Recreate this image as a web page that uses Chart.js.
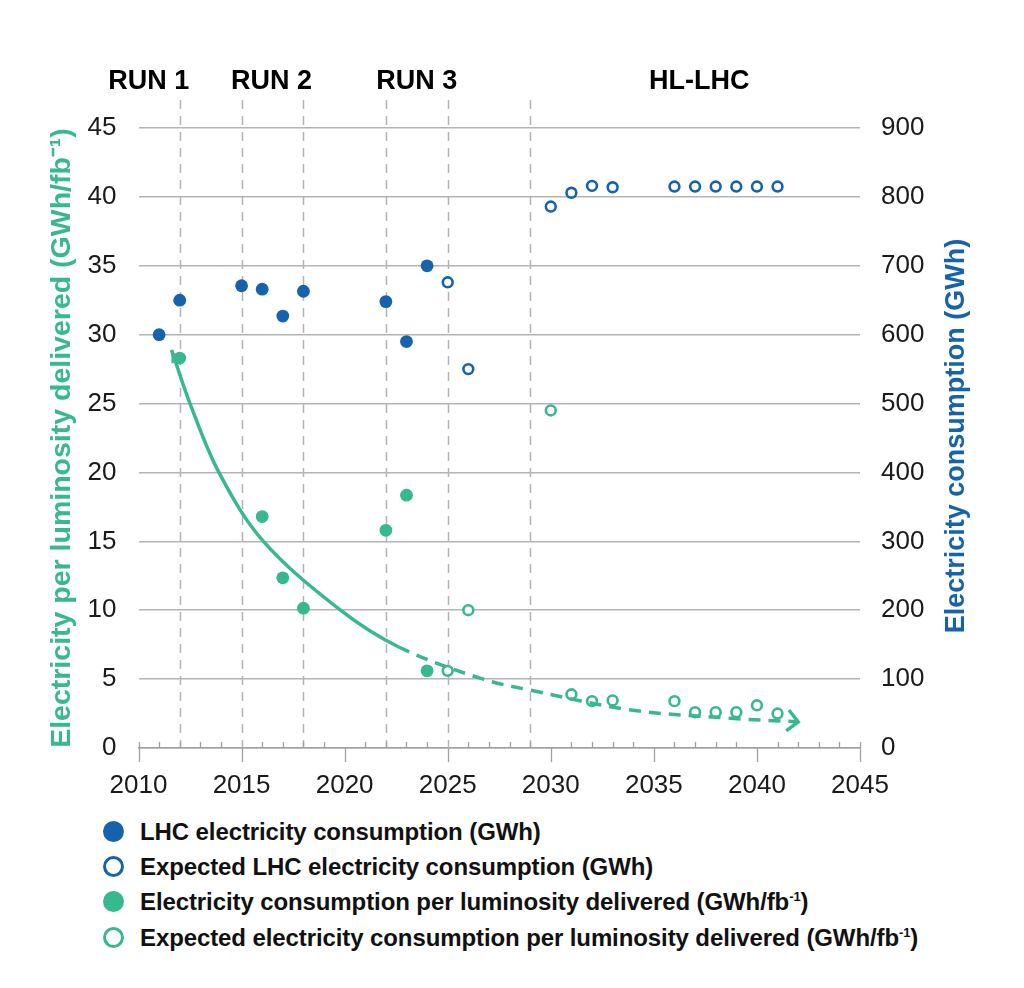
<!DOCTYPE html>
<html><head><meta charset="utf-8">
<script src="https://cdn.jsdelivr.net/npm/chart.js@4.4.1/dist/chart.umd.min.js"></script>
<style>
body{margin:0;background:#fff;width:1024px;height:988px;overflow:hidden;font-family:"Liberation Sans",Arial,sans-serif;}
#wrap{position:relative;width:1024px;height:800px;}
#legend{position:absolute;left:0;top:814px;width:1024px;}
.row{position:absolute;left:140px;height:35px;line-height:35px;font-weight:bold;font-size:24px;color:#111;white-space:nowrap;letter-spacing:-0.1px;}
.mk{position:absolute;left:-37px;top:7px;width:21px;height:21px;border-radius:50%;box-sizing:border-box;}
sup{font-size:13px;vertical-align:9px;line-height:0;}
</style></head><body>
<div id="wrap"><canvas id="c" width="1024" height="800"></canvas></div>
<div id="legend"></div>
<script>
// ---- data ----
const lhcYears = [2011, 2012, 2015, 2016, 2017, 2018, 2022, 2023, 2024];
const lhcGWh = [600, 650, 671, 666, 627, 663, 648, 590, 700];
const expLhcYears = [2025, 2026, 2030, 2031, 2032, 2033, 2036, 2037, 2038, 2039, 2040, 2041];
const expLhcGWh = [676, 550, 786, 806, 816, 814, 815, 815, 815, 815, 815, 815];
const perLumiYears = [2012, 2016, 2017, 2018, 2022, 2023, 2024];
const perLumi = [28.3, 16.8, 12.35, 10.15, 15.8, 18.35, 5.6];
const expPerLumiYears = [2025, 2026, 2030, 2031, 2032, 2033, 2036, 2037, 2038, 2039, 2040, 2041];
const expPerLumi = [5.6, 10.0, 24.5, 3.9, 3.4, 3.45, 3.4, 2.6, 2.6, 2.6, 3.1, 2.5];
const trendYears = [2011.6, 2012.5, 2013.9, 2016.06, 2019.8, 2022.6, 2026.6, 2029, 2033.9, 2038.7, 2042];
const trendValues = [28.9, 25.0, 20.0, 15.0, 10.0, 7.35, 5.05, 4.2, 2.76, 2.16, 1.9];
const trendSolidUntil = 2022.6;
const runBoundaries = [2012, 2015, 2018, 2022, 2025, 2029];
const runLabels = ['RUN 1', 'RUN 2', 'RUN 3', 'HL-LHC'];
const runLabelYears = [2010.5, 2016.45, 2023.5, 2037.2];
const xTicks = [2010, 2015, 2020, 2025, 2030, 2035, 2040, 2045];
const leftTitle = 'Electricity per luminosity delivered (GWh/fb⁻¹)';
const rightTitle = 'Electricity consumption (GWh)';
const seriesLabels = ['LHC electricity consumption (GWh)', 'Expected LHC electricity consumption (GWh)',
  'Electricity consumption per luminosity delivered (GWh/fb⁻¹)', 'Expected electricity consumption per luminosity delivered (GWh/fb⁻¹)'];

const BLUE = '#1762ad', GREEN = '#37b98b', GRID = '#b4b4b4', FONT = '"Liberation Sans", Arial, sans-serif';
const pts = (xs, ys) => xs.map((x, i) => ({x, y: ys[i]}));

const overlay = {
  id: 'overlay',
  beforeDatasetsDraw(chart) {
    const {ctx, chartArea: a, scales: {x}} = chart;
    ctx.save();
    ctx.strokeStyle = GRID; ctx.lineWidth = 1.5; ctx.setLineDash([9, 7]);
    runBoundaries.forEach(yr => {
      const px = Math.round(x.getPixelForValue(yr)) + 0.5;
      ctx.beginPath(); ctx.moveTo(px, 100); ctx.lineTo(px, a.bottom); ctx.stroke();
    });
    ctx.setLineDash([]);
    ctx.strokeStyle = '#a0a0a0'; ctx.lineWidth = 1.3;
    for (let yr = 2010; yr <= 2045; yr++) {
      const px = Math.round(x.getPixelForValue(yr)) + 0.5;
      ctx.beginPath();
      if (yr % 5 === 0) { ctx.moveTo(px, a.bottom - (yr === 2010 || yr === 2045 ? 6 : 0)); ctx.lineTo(px, a.bottom + 14); }
      else { ctx.moveTo(px, a.bottom - 6); ctx.lineTo(px, a.bottom); }
      ctx.stroke();
    }
    ctx.fillStyle = '#000'; ctx.font = 'bold 27px ' + FONT; ctx.textAlign = 'center'; ctx.textBaseline = 'middle';
    runLabels.forEach((t, i) => ctx.fillText(t, x.getPixelForValue(runLabelYears[i]), 82));
    ctx.fillStyle = BLUE; ctx.translate(957, (a.top + a.bottom) / 2 - 2); ctx.rotate(-Math.PI / 2);
    ctx.fillText(rightTitle, 0, 0);
    ctx.restore();
  },
  afterDatasetsDraw(chart) {
    const meta = chart.getDatasetMeta(4);
    const d = meta.data; if (!d.length) return;
    const {ctx} = chart;
    ctx.save();
    ctx.strokeStyle = GREEN; ctx.fillStyle = GREEN; ctx.lineWidth = 3.5; ctx.lineCap = 'butt';
    // start arrow (filled wedge)
    let p0 = d[0], p1 = d[1];
    let ang = Math.atan2(p0.y - p1.y, p0.x - p1.x);
    ctx.beginPath();
    ctx.moveTo(p0.x, p0.y);
    ctx.lineTo(p0.x - 13 * Math.cos(ang) + 4.5 * Math.sin(ang), p0.y - 13 * Math.sin(ang) - 4.5 * Math.cos(ang));
    ctx.lineTo(p0.x - 13 * Math.cos(ang) - 4.5 * Math.sin(ang), p0.y - 13 * Math.sin(ang) + 4.5 * Math.cos(ang));
    ctx.closePath(); ctx.fill();
    // end chevron
    const n = d.length; p0 = d[n - 1]; p1 = d[n - 2];
    ang = Math.atan2(p0.y - p1.y, p0.x - p1.x) + 0.08;
    const L = 15, s = 0.78;
    ctx.beginPath();
    ctx.moveTo(p0.x - L * Math.cos(ang - s), p0.y - L * Math.sin(ang - s));
    ctx.lineTo(p0.x, p0.y);
    ctx.lineTo(p0.x - L * Math.cos(ang + s), p0.y - L * Math.sin(ang + s));
    ctx.stroke();
    ctx.restore();
  }
};

const chart = new Chart(document.getElementById('c'), {
  type: 'scatter',
  data: {
    datasets: [
      {label: seriesLabels[0], data: pts(lhcYears, lhcGWh), yAxisID: 'y2', backgroundColor: BLUE, borderColor: BLUE, pointRadius: 6.4, borderWidth: 0, order: 3},
      {label: seriesLabels[1], data: pts(expLhcYears, expLhcGWh), yAxisID: 'y2', backgroundColor: '#fff', borderColor: BLUE, pointRadius: 4.9, borderWidth: 2.6, order: 3},
      {label: seriesLabels[2], data: pts(perLumiYears, perLumi), yAxisID: 'y', backgroundColor: GREEN, borderColor: GREEN, pointRadius: 6.4, borderWidth: 0, order: 2},
      {label: seriesLabels[3], data: pts(expPerLumiYears, expPerLumi), yAxisID: 'y', backgroundColor: '#fff', borderColor: GREEN, pointRadius: 4.9, borderWidth: 2.6, order: 2},
      {label: 'trend', type: 'line', data: pts(trendYears, trendValues), yAxisID: 'y', borderColor: GREEN, borderWidth: 3.5,
        pointRadius: 0, fill: false, tension: 0.35, order: 1,
        segment: {borderDash: c => c.p0.parsed.x >= trendSolidUntil ? [12, 8] : undefined}}
    ]
  },
  options: {
    responsive: false, animation: false, devicePixelRatio: 1,
    layout: {padding: {top: 128, left: 0, right: 0, bottom: 0}},
    plugins: {legend: {display: false}, tooltip: {enabled: false}},
    scales: {
      x: {type: 'linear', min: 2010, max: 2045,
        afterBuildTicks: s => { s.ticks = xTicks.map(v => ({value: v})); },
        ticks: {padding: 22, color: '#1a1a1a', font: {family: FONT, size: 26}, callback: v => String(v), maxRotation: 0},
        grid: {display: false, drawTicks: false}, border: {display: true, color: '#a0a0a0', width: 1.5},
        afterFit: s => { s.height = 52; }},
      y: {position: 'left', min: 0, max: 45,
        ticks: {stepSize: 5, padding: 22, color: '#1a1a1a', font: {family: FONT, size: 26}},
        grid: {color: GRID, lineWidth: 1.5, drawTicks: false}, border: {display: false},
        title: {display: true, text: leftTitle, color: GREEN, font: {family: FONT, size: 28.5, weight: 'bold'}, padding: {top: 45, bottom: 0}},
        afterFit: s => { s.width = 138.5; }},
      y2: {position: 'right', min: 0, max: 900,
        ticks: {stepSize: 100, padding: 21, color: '#1a1a1a', font: {family: FONT, size: 26}},
        grid: {display: false, drawTicks: false}, border: {display: false},
        afterFit: s => { s.width = 164; }}
    }
  },
  plugins: [overlay]
});

// HTML legend from dataset labels
const lg = document.getElementById('legend');
const legendTops = [0, 35, 70, 106];
chart.data.datasets.slice(0, 4).forEach((ds, i) => {
  const row = document.createElement('div');
  row.className = 'row'; row.style.top = legendTops[i] + 'px';
  const mk = document.createElement('span'); mk.className = 'mk';
  const col = ds.borderColor;
  if (ds.backgroundColor === '#fff') { mk.style.border = '3.5px solid ' + col; mk.style.background = '#fff'; }
  else mk.style.background = col;
  row.appendChild(mk);
  const parts = ds.label.split('⁻¹');
  row.appendChild(document.createTextNode(parts[0]));
  if (parts.length > 1) { const sp = document.createElement('sup'); sp.textContent = '-1'; row.appendChild(sp); row.appendChild(document.createTextNode(parts[1])); }
  lg.appendChild(row);
});
</script>
</body></html>
